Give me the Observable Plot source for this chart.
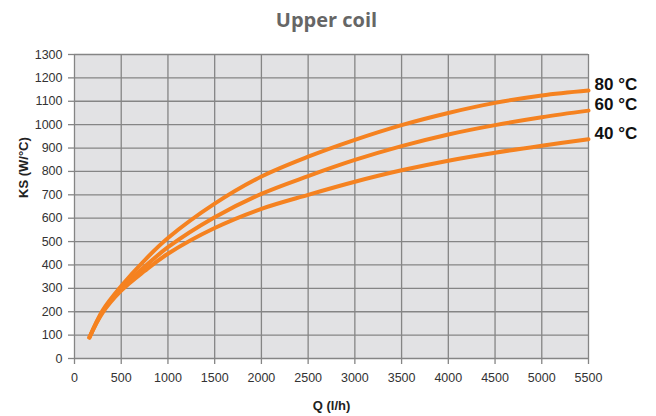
<!DOCTYPE html>
<html>
<head>
<meta charset="utf-8">
<script src="https://cdn.jsdelivr.net/npm/d3@7"></script>
<script src="https://cdn.jsdelivr.net/npm/@observablehq/plot@0.6"></script>
<style>
  html, body { margin: 0; padding: 0; background: #fff; }
  #chart svg { display: block; }
</style>
</head>
<body>
<div id="chart"></div>
<script>
const title = "Upper coil";
const xLabel = "Q (l/h)";
const yLabel = "KS (W/°C)";
const flow = [160, 300, 500, 750, 1000, 1500, 2000, 2500, 3000, 3500, 4000, 4500, 5000, 5500];
const ks80 = [90, 205, 310, 420, 515, 662, 778, 863, 935, 998, 1050, 1093, 1125, 1146];
const ks60 = [90, 200, 300, 392, 476, 604, 704, 780, 849, 908, 958, 998, 1032, 1060];
const ks40 = [90, 195, 290, 374, 448, 558, 640, 700, 756, 805, 846, 880, 910, 938];
const seriesNames = ["80 °C", "60 °C", "40 °C"];
const xTicks = d3.range(0, 5501, 500);
const yTicks = d3.range(0, 1301, 100);

const seriesValues = [ks80, ks60, ks40];
const rows = [];
seriesNames.forEach((name, i) => {
  flow.forEach((q, j) => rows.push({series: name, q, ks: seriesValues[i][j]}));
});
const ends = rows.filter(d => d.q === flow[flow.length - 1]);

const orange = "#f58220";
const grid = "#858585";

const chart = Plot.plot({
  width: 656,
  height: 416,
  marginLeft: 74,
  marginRight: 68,
  marginTop: 54,
  marginBottom: 58,
  style: {fontFamily: "'Liberation Sans', Arial, sans-serif", fontSize: "12px", color: "#333", background: "#fff"},
  x: {domain: [0, 5500]},
  y: {domain: [0, 1300]},
  marks: [
    Plot.frame({fill: "#e2e2e4", stroke: null}),
    Plot.ruleX(xTicks, {x: d => d, stroke: grid, strokeWidth: 1.3}),
    Plot.ruleY(yTicks, {y: d => d, stroke: grid, strokeWidth: 1.3}),
    Plot.axisX({ticks: xTicks, tickFormat: d => String(d), tickSize: 6, tickPadding: 9, stroke: grid, strokeWidth: 1.3, label: null, fill: "#333", fontSize: 12.5}),
    Plot.axisY({ticks: yTicks, tickFormat: d => String(d), tickSize: 6, tickPadding: 6, stroke: grid, strokeWidth: 1.3, label: null, fill: "#333", fontSize: 12.5}),
    Plot.line(rows, {x: "q", y: "ks", z: "series", stroke: orange, strokeWidth: 4, curve: "catmull-rom", strokeLinecap: "round", strokeLinejoin: "round"}),
    Plot.text(ends, {x: "q", y: "ks", text: "series", textAnchor: "start", dx: 6, dy: -6, fontSize: 17, fontWeight: "bold", fill: "#111"}),
    Plot.text([title], {frameAnchor: "top", dy: -33.5, dx: -5, fontSize: 20, fontWeight: 700, fill: "#666", fontFamily: "'Open Sans', sans-serif", lineAnchor: "middle"}),
    Plot.text([xLabel], {frameAnchor: "bottom", dy: 47, fontSize: 13, fontWeight: "bold", fill: "#222", lineAnchor: "middle"}),
    Plot.text([yLabel], {frameAnchor: "left", dx: -51, dy: -8.5, rotate: -90, fontSize: 13, fontWeight: "bold", fill: "#222", lineAnchor: "middle"})
  ]
});
document.getElementById("chart").appendChild(chart);
</script>
</body>
</html>
